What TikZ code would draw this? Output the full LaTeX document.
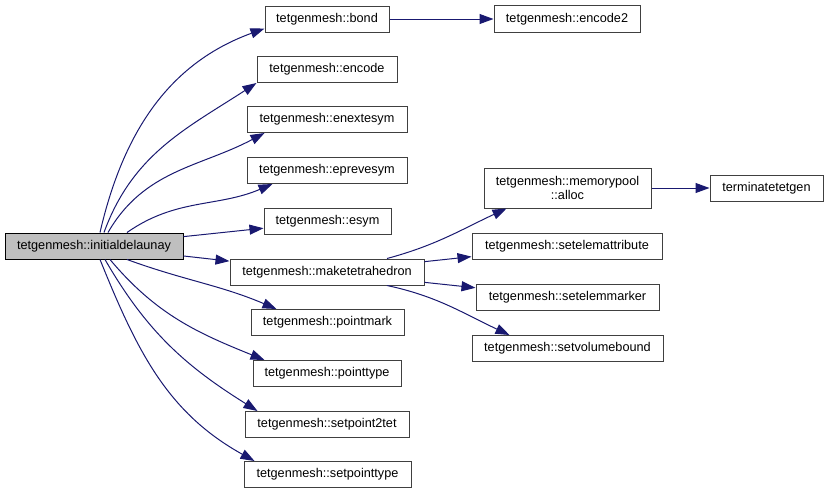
\documentclass[tikz,border=0pt]{standalone}
\usepackage{fontspec}
\setmainfont{Liberation Sans}
\usepackage{tikz}
\usetikzlibrary{calc}
\usetikzlibrary{arrows.meta}

\definecolor{edgeblue}{HTML}{191970}
\definecolor{rootgray}{HTML}{BFBFBF}

\begin{document}
\begin{tikzpicture}[x=1pt, y=-1pt,
		fn/.style={draw=black!75, line width=1pt, fill=white, inner sep=0pt,
			minimum height=26pt, font=\fontsize{12.7}{14.5}\selectfont},
		call/.style={draw=edgeblue, line width=1pt, -{Triangle[length=14pt,width=10pt]}}]
				\useasboundingbox (0,0) rectangle (828,493);

				\node[fn, draw=black, fill=rootgray, minimum width=178pt](init) at (94, 246) {tetgenmesh::initialdelaunay};

				\node[fn, minimum width=124pt](bond) at (327, 19) {tetgenmesh::bond};
				\node[fn, minimum width=140pt](encode) at (327, 69.5) {tetgenmesh::encode};
				\node[fn, minimum width=160pt](enext) at (327, 119.5) {tetgenmesh::enextesym};
				\node[fn, minimum width=160pt](eprev) at (327, 170.5) {tetgenmesh::eprevesym};
				\node[fn, minimum width=127pt](esym) at (327.5, 221.5) {tetgenmesh::esym};
				\node[fn, minimum width=194pt](make) at (327, 272) {tetgenmesh::maketetrahedron};
				\node[fn, minimum width=153pt](pmark) at (327.5, 322.5) {tetgenmesh::pointmark};
				\node[fn, minimum width=148pt](ptype) at (327, 373.5) {tetgenmesh::pointtype};
				\node[fn, minimum width=164pt](p2tet) at (327, 424.5) {tetgenmesh::setpoint2tet};
				\node[fn, minimum width=167pt](pstype) at (327.5, 474.5) {tetgenmesh::setpointtype};

				\node[fn, minimum width=146pt, minimum height=27pt](encode2) at (567, 19) {tetgenmesh::encode2};
				\node[fn, minimum width=167pt, minimum height=40pt, align=center](alloc) at (567.5, 188) {tetgenmesh::memorypool\\::alloc};
				\node[fn, minimum width=190pt](attr) at (567, 246.5) {tetgenmesh::setelemattribute};
				\node[fn, minimum width=183pt](marker) at (567.5, 297.5) {tetgenmesh::setelemmarker};
				\node[fn, minimum width=191pt](volume) at (567.5, 348.5) {tetgenmesh::setvolumebound};

				\node[fn, minimum width=113pt](term) at (766.5, 188) {terminatetetgen};

				\draw[call] ([xshift=6pt]init.north) to[out=77, in=200] ([yshift=4pt]bond.south west);
				\draw[call] ([xshift=10pt]init.north) to[out=70, in=213] (encode.south west);
				\draw[call] ([xshift=14pt]init.north) to[out=60, in=208] ([xshift=18pt]enext.south west);
				\draw[call] ([xshift=33pt]init.north) to[out=35, in=203] ([xshift=26pt]eprev.south west);
				\draw[call] (init)--(esym);
				\draw[call] (init)--(make);
				\draw[call] ([xshift=33pt]init.south) to[out=-20, in=157] ([xshift=26pt]pmark.north west);
				\draw[call] ([xshift=16pt]init.south) to[out=-50, in=158] ([xshift=12pt]ptype.north west);
				\draw[call] ([xshift=11pt]init.south) to[out=-60, in=148] ([xshift=13pt]p2tet.north west);
				\draw[call] ([xshift=6pt]init.south) to[out=-68, in=151] ([xshift=11pt]pstype.north west);

				\draw[call] (bond)--(encode2);
				\draw[call] ([xshift=60pt]make.north) to[out=15, in=205] ([xshift=23pt]alloc.south west);
				\draw[call] (make)--(attr);
				\draw[call] (make)--(marker);
				\draw[call] ([xshift=60pt]make.south) to[out=-12, in=155] ([xshift=38pt]volume.north west);
				\draw[call] (alloc)--(term);

			\end{tikzpicture}
\end{document}
